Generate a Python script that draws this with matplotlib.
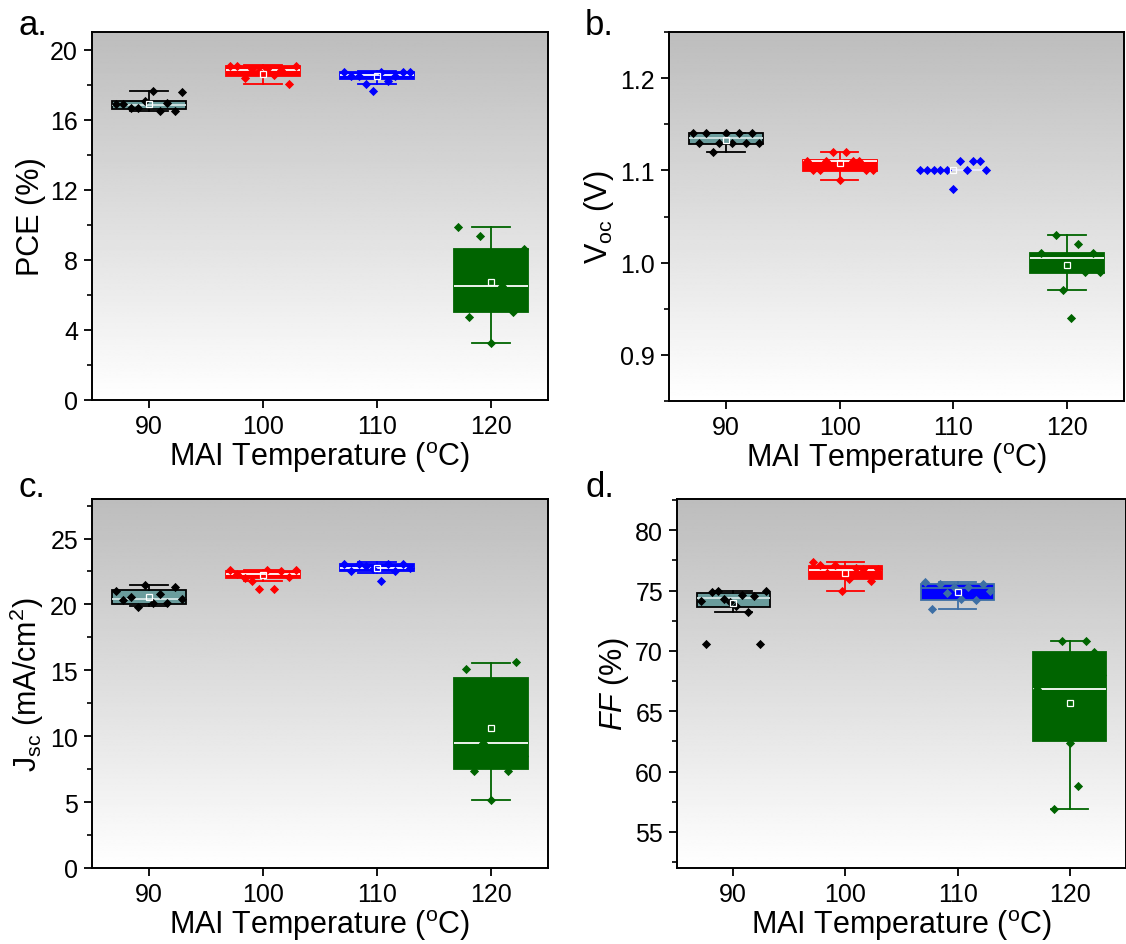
import numpy as np
import matplotlib
matplotlib.use('Agg')
import matplotlib.pyplot as plt
from matplotlib.ticker import MultipleLocator, FormatStrFormatter

plt.rcParams['font.family'] = ['Liberation Sans', 'DejaVu Sans']
plt.rcParams['mathtext.fontset'] = 'custom'
plt.rcParams['mathtext.rm'] = 'Liberation Sans'
plt.rcParams['mathtext.it'] = 'Liberation Sans:italic'

# ---------------- data ----------------
temps = [90, 100, 110, 120]
tick_labels = ['90', '100', '110', '120']

# PCE (%)
pce_pts = [
    [16.87, 16.87, 16.64, 16.64, 17.05, 17.66, 16.52, 16.92, 16.52, 17.60],
    [19.05, 19.05, 18.35, 18.90, 18.75, 18.90, 18.52, 18.85, 18.05, 19.05],
    [18.70, 18.50, 18.50, 18.05, 17.62, 18.70, 18.23, 18.50, 18.70, 18.70],
    [9.86, 4.73, 9.35, 3.25, 6.50, 5.00, 8.60],
]
pce_q1 = [16.58, 18.48, 18.29, 5.03]
pce_med = [16.81, 18.82, 18.52, 6.50]
pce_q3 = [17.05, 19.05, 18.71, 8.60]
pce_lo = [16.52, 18.06, 18.06, 3.25]
pce_hi = [17.66, 19.10, 18.75, 9.90]
pce_mean = [16.90, 18.63, 18.50, 6.71]

# Voc (V)
voc_pts = [
    [1.14, 1.13, 1.14, 1.12, 1.13, 1.14, 1.13, 1.14, 1.13, 1.14, 1.13],
    [1.11, 1.10, 1.10, 1.11, 1.12, 1.09, 1.12, 1.11, 1.11, 1.10, 1.10],
    [1.10, 1.10, 1.10, 1.10, 1.10, 1.08, 1.11, 1.10, 1.11, 1.11, 1.10],
    [1.00, 1.01, 1.00, 1.03, 0.97, 0.94, 1.02, 0.99, 1.01, 0.99],
]
voc_q1 = [1.129, 1.099, 1.100, 0.989]
voc_med = [1.135, 1.110, 1.100, 1.005]
voc_q3 = [1.140, 1.111, 1.100, 1.010]
voc_lo = [1.120, 1.090, 1.100, 0.970]
voc_hi = [1.140, 1.120, 1.100, 1.030]
voc_mean = [1.133, 1.108, 1.100, 0.997]

# Jsc (mA/cm2)
jsc_pts = [
    [21.00, 20.30, 20.60, 19.80, 21.45, 20.10, 20.80, 20.10, 21.30, 20.40],
    [22.65, 22.30, 22.00, 21.76, 21.20, 22.65, 21.20, 22.50, 22.10, 22.65],
    [23.10, 22.55, 23.10, 22.90, 22.70, 21.76, 23.10, 22.55, 23.10, 22.80],
    [12.00, 15.12, 7.37, 9.47, 5.15, 10.00, 7.37, 15.63, 8.50],
]
jsc_q1 = [20.02, 22.02, 22.55, 7.50]
jsc_med = [20.43, 22.29, 22.80, 9.47]
jsc_q3 = [21.06, 22.52, 23.05, 14.39]
jsc_lo = [19.86, 21.76, 22.40, 5.17]
jsc_hi = [21.45, 22.65, 23.20, 15.58]
jsc_mean = [20.60, 22.20, 22.75, 10.60]

# FF (%)
ff_pts = [
    [74.13, 70.60, 74.85, 74.93, 74.27, 74.05, 73.70, 74.63, 73.25, 74.55, 70.60, 74.96],
    [77.40, 77.10, 76.50, 77.10, 74.96, 75.93, 76.90, 76.76, 75.80, 76.76],
    [75.74, 73.44, 75.57, 74.77, 75.29, 74.27, 75.32, 74.19, 75.51, 74.96],
    [66.88, 64.00, 56.89, 70.86, 62.40, 58.82, 70.86, 69.90, 68.00],
]
ff_q1 = [73.63, 75.93, 74.21, 62.50]
ff_med = [74.35, 76.70, 75.18, 66.88]
ff_q3 = [74.83, 77.04, 75.51, 69.90]
ff_lo = [73.27, 74.96, 73.50, 56.89]
ff_hi = [74.96, 77.40, 75.68, 70.86]
ff_mean = [74.00, 76.48, 74.88, 65.69]

# ---------------- style ----------------
teal = '#6a9c9c'
green = '#006400'
face_std = [teal, '#ff0000', '#0000ff', green]
edge_std = ['black', '#ff0000', '#0000ff', green]
pt_std = ['black', '#ff0000', '#0000ff', green]
med_std = ['#d5e6e6', 'white', 'white', 'white']
steel = '#3d6fa5'
face_ff = [teal, '#ff0000', '#0000ff', green]
edge_ff = ['black', '#ff0000', steel, green]
pt_ff = ['black', '#ff0000', steel, green]
med_ff = ['#d5e6e6', 'white', steel, 'white']

W, H = 1126, 945
fig = plt.figure(figsize=(W / 100, H / 100), dpi=100)


def px_axes(left, top, right, bottom):
    return fig.add_axes([left / W, 1 - bottom / H, (right - left) / W, (bottom - top) / H])


def gradient(ax):
    grad = np.linspace(1.0, 0.74, 256).reshape(-1, 1)
    ax.imshow(grad, cmap='gray', vmin=0, vmax=1, extent=[0, 1, 0, 1],
              transform=ax.transAxes, aspect='auto', origin='lower', zorder=0,
              interpolation='bilinear')


def panel(ax, pts, q1, med, q3, lo, hi, mean, face, edge, ptc, medc,
          ylim, major, minor, ylabel, letter, lx, ly):
    gradient(ax)
    for i, t in enumerate(temps):
        stats = [dict(med=med[i], q1=q1[i], q3=q3[i], whislo=lo[i],
                      whishi=hi[i], mean=mean[i], fliers=[])]
        art = ax.bxp(stats, positions=[t], widths=6.5, capwidths=3.3,
                     patch_artist=True, showmeans=True, showfliers=False,
                     manage_ticks=False, zorder=2,
                     boxprops=dict(facecolor=face[i], edgecolor=edge[i], linewidth=1.3),
                     whiskerprops=dict(color=edge[i], linewidth=1.3),
                     capprops=dict(color=edge[i], linewidth=1.3),
                     medianprops=dict(color=medc[i], linewidth=1.3),
                     meanprops=dict(marker='s', markerfacecolor='none',
                                    markeredgecolor='white', markersize=4,
                                    markeredgewidth=0.9))
        for m in art['means']:
            m.set_zorder(5)
        n = len(pts[i])
        offs = np.linspace(-2.9, 2.9, n)
        ax.scatter(t + offs, pts[i], marker='D', s=22, color=ptc[i],
                   linewidths=0, zorder=3)
    ax.set_xlim(85, 125)
    ax.set_ylim(*ylim)
    ax.set_xticks(temps)
    ax.set_xticklabels(tick_labels)
    ax.yaxis.set_major_locator(MultipleLocator(major))
    ax.yaxis.set_minor_locator(MultipleLocator(minor))
    ax.tick_params(axis='both', which='major', direction='out', length=6,
                   width=1.3, labelsize=18, pad=4)
    ax.tick_params(axis='y', which='minor', direction='out', length=3.5, width=1.2)
    ax.tick_params(axis='x', which='minor', bottom=False)
    for s in ax.spines.values():
        s.set_linewidth(1.4)
    ax.set_xlabel(r'MAI Temperature ($^{\mathrm{o}}$C)', fontsize=22, labelpad=1)
    ax.set_ylabel(ylabel, fontsize=22, labelpad=3)
    fig.text(lx / W, 1 - ly / H, letter, fontsize=25, ha='left', va='baseline')


ax_a = px_axes(92, 33, 548, 401)
panel(ax_a, pce_pts, pce_q1, pce_med, pce_q3, pce_lo, pce_hi, pce_mean,
      face_std, edge_std, pt_std, med_std, (0, 21), 4, 2, 'PCE (%)', 'a.', 18, 35)

ax_b = px_axes(669, 33, 1124, 402)
panel(ax_b, voc_pts, voc_q1, voc_med, voc_q3, voc_lo, voc_hi, voc_mean,
      face_std, edge_std, pt_std, med_std, (0.85, 1.25), 0.1, 0.05,
      r'V$_{\mathrm{oc}}$ (V)', 'b.', 585, 35)
ax_b.yaxis.set_major_formatter(FormatStrFormatter('%.1f'))

ax_c = px_axes(92, 500, 548, 869)
panel(ax_c, jsc_pts, jsc_q1, jsc_med, jsc_q3, jsc_lo, jsc_hi, jsc_mean,
      face_std, edge_std, pt_std, med_std, (0, 28), 5, 2.5,
      r'J$_{\mathrm{sc}}$ (mA/cm$^{2}$)', 'c.', 18, 497)

ax_d = px_axes(677, 500, 1126, 869)
panel(ax_d, ff_pts, ff_q1, ff_med, ff_q3, ff_lo, ff_hi, ff_mean,
      face_ff, edge_ff, pt_ff, med_ff, (52, 82.6), 5, 2.5,
      r'$\mathit{FF}$ (%)', 'd.', 585, 497)

fig.savefig('out.png', dpi=100)
